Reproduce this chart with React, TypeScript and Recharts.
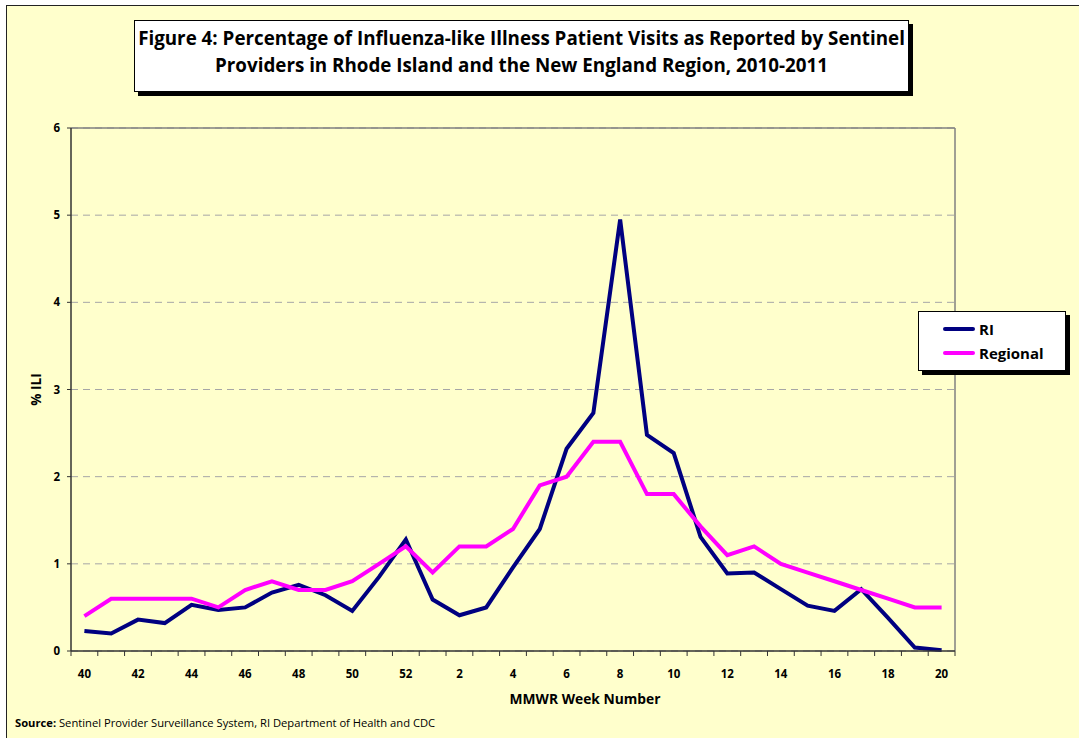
import React from 'react';
import { CartesianGrid, Legend, Line, LineChart, ReferenceLine, XAxis, YAxis } from 'recharts';

// MMWR weeks, 2010-2011 season
const weeks = [40, 41, 42, 43, 44, 45, 46, 47, 48, 49, 50, 51, 52, 1, 2, 3, 4, 5, 6, 7, 8, 9, 10, 11, 12, 13, 14, 15, 16, 17, 18, 19, 20];

const riValues = [
  0.23, 0.2, 0.36, 0.32, 0.53, 0.47, 0.5, 0.67, 0.76, 0.64, 0.46, 0.85, 1.28,
  0.59, 0.41, 0.5, 0.96, 1.4, 2.32, 2.73, 4.95, 2.48, 2.27, 1.31, 0.89, 0.9, 0.71, 0.52, 0.46, 0.71, 0.38, 0.04, 0.01,
];

const regionalValues = [
  0.4, 0.6, 0.6, 0.6, 0.6, 0.5, 0.7, 0.8, 0.7, 0.7, 0.8, 1.0, 1.2,
  0.9, 1.2, 1.2, 1.4, 1.9, 2.0, 2.4, 2.4, 1.8, 1.8, 1.43, 1.1, 1.2, 1.0, 0.9, 0.8, 0.7, 0.6, 0.5, 0.5,
];

const yTicks = [0, 1, 2, 3, 4, 5, 6];

const data = weeks.map((week, i) => ({ i, week, ri: riValues[i], regional: regionalValues[i] }));

// tick marks sit between categories (Excel style), labels on every other category
const xTicks: number[] = [];
for (let k = 0; k <= weeks.length * 2; k++) xTicks.push(k / 2 - 0.5);

const FONT = '"Open Sans", Lato, sans-serif';
const AXIS = '#333333';

const WeekTick = (props: any) => {
  const { x, y, payload } = props;
  const v = payload.value;
  if (!Number.isInteger(v)) {
    return <line x1={x} y1={y - 5} x2={x} y2={y} stroke={AXIS} strokeWidth={1} />;
  }
  if (v % 2 !== 0) return <g />;
  return (
    <text x={x} y={y + 22} textAnchor="middle" fontSize={11.5} fontWeight={700} fill="#000" fontFamily={FONT}>
      {weeks[v]}
    </text>
  );
};

const LegendBox = (props: any) => {
  const { payload } = props;
  return (
    <div
      style={{
        width: 148,
        height: 60,
        background: '#fff',
        border: '1px solid #000',
        boxShadow: '4px 4px 0 #000',
        boxSizing: 'border-box',
        padding: '5px 0 0 24px',
        fontFamily: FONT,
      }}
    >
      {(payload || []).map((p: any) => (
        <div key={p.value} style={{ display: 'flex', alignItems: 'center', height: 24 }}>
          <span style={{ display: 'inline-block', width: 32, height: 4, borderRadius: 2, background: p.color, marginRight: 4 }} />
          <span style={{ fontSize: 15, fontWeight: 700, color: '#000' }}>{p.value}</span>
        </div>
      ))}
    </div>
  );
};

export default function App() {
  return (
    <div style={{ position: 'absolute', left: 0, top: 0, width: 1079, height: 738, background: '#fff', overflow: 'hidden' }}>
      <div
        style={{
          position: 'absolute',
          left: 6,
          top: 5,
          width: 1079,
          height: 738,
          background: '#FFFFCC',
          borderLeft: '1.5px solid #222',
          borderTop: '1.5px solid #222',
        }}
      />
      <div style={{ position: 'absolute', left: 0, top: 0 }}>
        <LineChart width={1079} height={738} data={data} margin={{ top: 128, right: 124, bottom: 0, left: 0 }}>
          <CartesianGrid vertical={false} stroke="#A6A6A6" strokeDasharray="7 5" />
          <XAxis
            type="number"
            dataKey="i"
            domain={[-0.5, weeks.length - 0.5]}
            ticks={xTicks}
            interval={0}
            allowDecimals
            height={87}
            tickSize={5}
            tickMargin={0}
            tickLine={false}
            axisLine={{ stroke: AXIS, strokeWidth: 1.5 }}
            tick={<WeekTick />}
            label={{
              value: 'MMWR Week Number',
              position: 'insideTop',
              offset: 43,
              dx: 72,
              style: { fontSize: 13.8, fontWeight: 700, fill: '#000', fontFamily: FONT },
            }}
          />
          <YAxis
            type="number"
            domain={[0, 6]}
            ticks={yTicks}
            interval={0}
            width={71}
            tickSize={4}
            tickMargin={7}
            tickLine={{ stroke: AXIS }}
            axisLine={{ stroke: AXIS, strokeWidth: 1.5 }}
            tick={{ fontSize: 11.5, fontWeight: 700, fill: '#000', fontFamily: FONT }}
            label={{
              value: '% ILI',
              position: 'center',
              angle: -90,
              dx: 1,
              style: { fontSize: 13.5, fontWeight: 700, fill: '#000', fontFamily: FONT, textAnchor: 'middle' },
            }}
          />
          <ReferenceLine y={6} stroke="#808080" strokeWidth={1.5} />
          <ReferenceLine x={weeks.length - 0.5} stroke="#808080" strokeWidth={1.5} />
          <Legend
            layout="vertical"
            align="center"
            verticalAlign="middle"
            wrapperStyle={{ left: 918, top: 311, width: 152 }}
            content={<LegendBox />}
          />
          <Line
            type="linear"
            dataKey="ri"
            name="RI"
            stroke="#000080"
            strokeWidth={4}
            dot={false}
            activeDot={false}
            isAnimationActive={false}
          />
          <Line
            type="linear"
            dataKey="regional"
            name="Regional"
            stroke="#FF00FF"
            strokeWidth={4}
            dot={false}
            activeDot={false}
            isAnimationActive={false}
          />
        </LineChart>
      </div>
      <div
        style={{
          position: 'absolute',
          left: 134,
          top: 20,
          width: 775,
          height: 72,
          boxSizing: 'border-box',
          background: '#fff',
          border: '1px solid #000',
          boxShadow: '4px 4px 0 #000',
          fontFamily: FONT,
          fontWeight: 700,
          fontSize: 18.8,
          lineHeight: '27px',
          textAlign: 'center',
          paddingTop: 4,
          color: '#000',
          whiteSpace: 'nowrap',
        }}
      >
        Figure 4: Percentage of Influenza-like Illness Patient Visits as Reported by Sentinel
        <br />
        Providers in Rhode Island and the New England Region, 2010-2011
      </div>
      <div style={{ position: 'absolute', left: 15, top: 715, fontFamily: FONT, fontSize: 11.2, color: '#000' }}>
        <b>Source:</b> Sentinel Provider Surveillance System, RI Department of Health and CDC
      </div>
    </div>
  );
}
